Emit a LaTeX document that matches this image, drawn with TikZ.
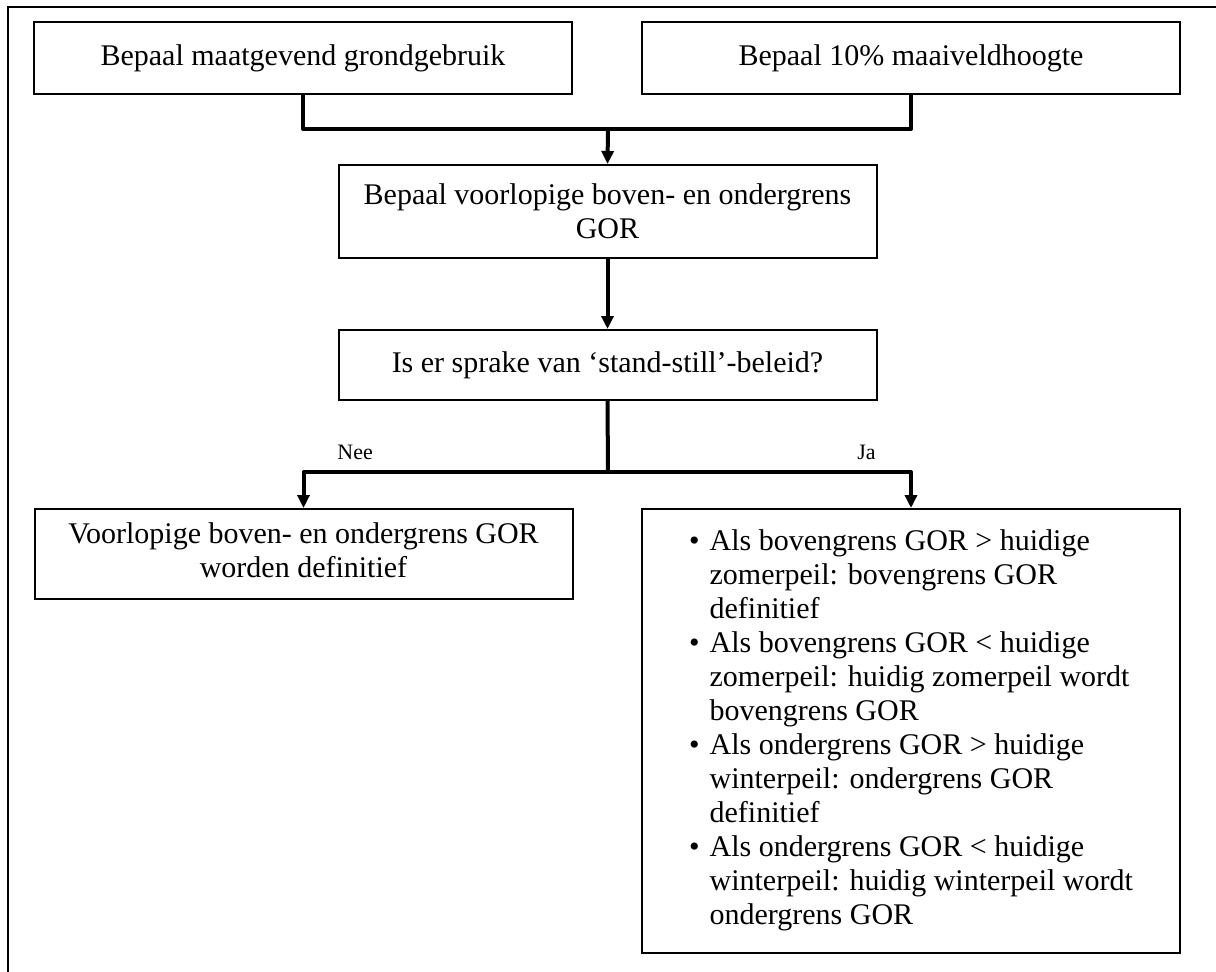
\documentclass[tikz,border=0pt]{standalone}
\usepackage{fontspec}
\setmainfont{Liberation Serif}
\usetikzlibrary{arrows.meta, positioning}

\begin{document}
\begin{tikzpicture}[x=0.5pt, y=-0.5pt,
    stap/.style={draw, line width=1pt, minimum width=269pt, inner sep=0pt, align=center, font=\fontsize{15}{17}\selectfont},
    lijn/.style={line width=2pt, line join=round},
    pijl/.style={lijn, -{Triangle[width=6pt, length=6.5pt]}},
    antw/.style={font=\fontsize{11}{13}\selectfont, anchor=west, inner sep=0pt}]
  \clip (0,0) rectangle (1216,971);
  \draw[line width=1pt] (8,990) -- (8,7) -- (1230,7);

  % bovenste rij
  \node[stap, minimum height=36pt] (grondgebruik) at (303,58) {Bepaal maatgevend grondgebruik};
  \node[stap, minimum height=36pt] (maaiveld) at (911,58) {Bepaal 10\% maaiveldhoogte};
  \node[stap, minimum height=46.5pt] (voorlopig) at (607.5,211.5) {Bepaal voorlopige boven- en ondergrens\\GOR};
  \node[stap, minimum height=35pt] (vraag) at (607.5,365) {Is er sprake van ‘stand-still’-beleid?};

  % uitkomsten
  \node[stap, minimum height=45pt] (nee) at (303.5,554) {\raisebox{-4pt}{\begin{tabular}{@{}c@{}}Voorlopige boven- en ondergrens GOR\\worden definitief\end{tabular}}};
  \node[stap, minimum height=222pt] (ja) at (911,731) {%
    \begin{tabular}{@{}c@{\hspace{5pt}}l@{}}
      • & Als bovengrens GOR > huidige\\
        & zomerpeil: bovengrens GOR\\
        & definitief\\
      • & Als bovengrens GOR < huidige\\
        & zomerpeil: huidig zomerpeil wordt\\
        & bovengrens GOR\\
      • & Als ondergrens GOR > huidige\\
        & winterpeil: ondergrens GOR\\
        & definitief\\
      • & Als ondergrens GOR < huidige\\
        & winterpeil: huidig winterpeil wordt\\
        & ondergrens GOR
    \end{tabular}};

  \node[antw] (neetekst) at (337,452) {Nee};
  \node[antw] (jatekst) at (857,452) {Ja};

  % verbindingen
  \coordinate (samen) at (608,129);
  \coordinate (splits) at (608,472);
  \draw[lijn] (grondgebruik.south) |- (samen) -| (maaiveld.south);
  \draw[pijl] (samen) -- (voorlopig.north);
  \draw[pijl] (voorlopig) -- (vraag);
  \draw[lijn] (vraag.south) -- (splits);
  \draw[pijl] (splits) -| (nee.north);
  \draw[pijl] (splits) -| (ja.north);
\end{tikzpicture}
\end{document}
